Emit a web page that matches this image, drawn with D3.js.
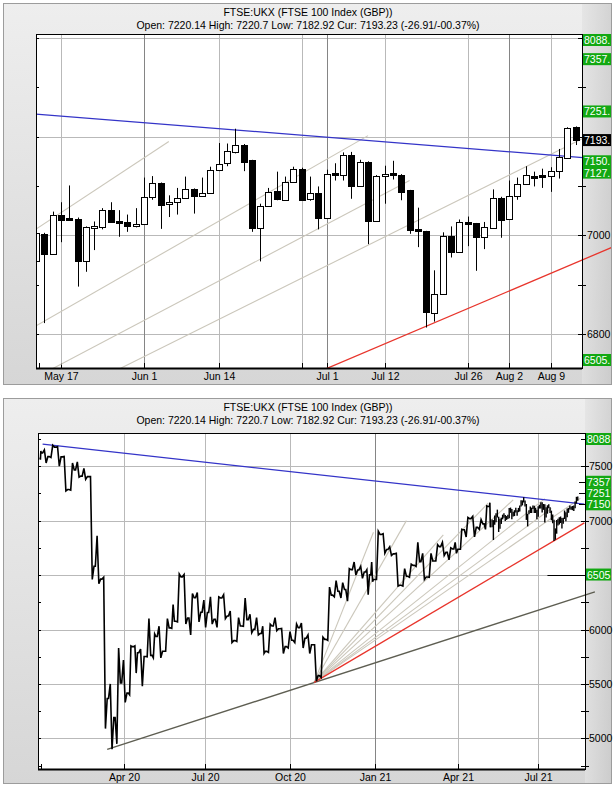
<!DOCTYPE html>
<html><head><meta charset="utf-8">
<script src="https://cdn.jsdelivr.net/npm/d3@7"></script>
<style>
body{margin:0;background:#fff;}
svg{display:block;}
text{font-family:"Liberation Sans",Arial,sans-serif;font-size:10.5px;fill:#000;}
</style>
</head><body>
<svg id="chart" width="616" height="787"></svg>
<script>
// ---------------- DATA ----------------
const titleText = "FTSE:UKX (FTSE 100 Index (GBP))";
const subtitleText = "Open: 7220.14 High: 7220.7 Low: 7182.92 Cur: 7193.23 (-26.91/-00.37%)";

const calendarStart = "2020-01-02";
const calendarEnd = "2021-09-10";
const ukHolidays = ["2020-01-01","2020-04-10","2020-04-13","2020-05-08","2020-05-25","2020-08-31",
  "2020-12-25","2020-12-28","2021-01-01","2021-04-02","2021-04-05","2021-05-03","2021-05-31","2021-08-30"];

// Daily candles (top chart and end of bottom chart), from 2021-05-12
const candleStart = "2021-05-12";
const candleOpen  = [6948,7003,6963,7042,7036,7034,6948,7016,7017,7051,7029,7026,7017,7022,7077,7106,7062,7067,7075,7094,7079,7086,7133,7145,7170,7184,7152,7016,7060,7089,7072,7109,7135,7072,7086,7036,7126,7123,7163,7100,7149,7029,7122,7126,7123,7091,7012,7008,6843,6881,6998,6966,7027,7024,6995,7016,7076,7032,7079,7104,7121,7122,7120,7130,7158,7220.14];
const candleHigh  = [7010,7005,7048,7067,7101,7036,7018,7028,7055,7067,7051,7042,7055,7117,7120,7107,7081,7096,7119,7095,7117,7139,7187,7186,7216,7185,7153,7064,7096,7129,7119,7139,7137,7119,7099,7133,7146,7168,7169,7153,7150,7122,7141,7151,7124,7092,7056,7009,6929,7006,7018,7032,7038,7025,7027,7093,7078,7111,7117,7140,7129,7135,7138,7175,7219,7220.7];
const candleLow   = [6940,6822,6962,6986,7029,6896,6926,6970,7012,7026,6997,7007,7016,7021,7072,7013,7037,7042,7074,7044,7078,7085,7130,7140,7166,7130,7007,6947,7058,7071,7070,7108,7071,7070,7012,7035,7111,7111,7074,7099,6982,7028,7064,7113,7071,7003,6976,6813,6825,6880,6955,6965,6978,6928,6972,7015,6995,7031,7072,7103,7099,7096,7088,7115,7156,7182.92];
const candleClose = [7004,6963,7042,7032,7033,6948,7017,7018,7051,7027,7025,7017,7022,7077,7106,7062,7067,7075,7094,7079,7086,7133,7145,7170,7184,7150,7015,7060,7088,7072,7109,7135,7072,7085,7036,7125,7123,7163,7100,7149,7029,7121,7124,7124,7089,7010,7007,6844,6881,6998,6966,7026,7024,6995,7016,7076,7032,7079,7104,7123,7119,7119,7131,7158,7218,7193.23];

// Weekly OHLC for the long chart, weeks starting on these Mondays, until 2021-05-11
const firstWeekMonday = "2019-12-30";
const weekOpen  = [7580,7622,7588,7675,7586,7286,7466,7409,7404,6581,6463,5366,5191,5510,5416,5843,5787,5752,5763,5936,5800,6015,6076,6484,6105,6292,6159,6157,6095,6290,6124,5898,6032,6090,6001,5963,5799,6032,6007,5843,5902,6016,5920,5860,5577,5910,6316,6351,6367,6550,6547,6529,6502,6460,6873,6735,6695,6407,6489,6589,6624,6483,6630,6761,6709,6740,6737,6916,7019,6938,6970,7130];
const weekHigh  = [7640,7650,7692,7680,7590,7530,7540,7480,7405,6860,6480,5500,5830,5720,5850,5850,5820,6100,5960,6030,6100,6230,6511,6505,6330,6340,6270,6300,6300,6320,6170,6110,6290,6140,6110,6030,6050,6110,6010,5980,6050,6060,5950,5860,5930,6390,6450,6430,6560,6620,6580,6550,6620,6903,6880,6760,6700,6560,6600,6800,6700,6700,6780,6800,6750,6800,6920,7030,7040,7010,7135,7165];
const weekLow   = [7560,7530,7580,7500,7273,7280,7400,7380,6460,6420,5090,4900,4950,5330,5400,5600,5480,5750,5740,5740,5800,6010,6070,6050,5950,6070,6020,6050,6020,6100,5880,5890,6030,5970,5950,5780,5790,5990,5780,5830,5880,5830,5780,5525,5560,5900,6300,6290,6260,6500,6470,6320,6440,6460,6700,6680,6400,6400,6480,6580,6460,6480,6630,6680,6640,6700,6737,6850,6850,6920,6920,6940];
const weekClose = [7622,7588,7675,7586,7286,7466,7409,7404,6581,6463,5366,5191,5510,5416,5843,5787,5752,5763,5936,5800,6015,6076,6484,6105,6292,6159,6157,6095,6290,6124,5898,6032,6090,6001,5963,5799,6032,6007,5843,5902,6016,5920,5860,5577,5910,6316,6351,6367,6550,6547,6529,6502,6460,6873,6735,6695,6407,6489,6589,6624,6483,6630,6761,6709,6740,6737,6916,7019,6938,6970,7130,6948];

// Trend lines: [date, price] end points
const blueLine = [["2020-01-06",7702],["2021-08-19",7152]];
const redLine  = [["2020-10-27",5515],["2021-08-19",6980]];
const darkLine = [["2020-03-13",4900],["2021-09-01",6346]];
const fanOrigin = ["2020-10-27",5515];
const fanEnds = [["2020-12-31",6893],["2021-02-05",7000],["2021-03-17",6870],["2021-05-07",7160],
                 ["2021-06-04",7190],["2021-07-08",7202],["2021-07-15",7111],["2021-08-16",7206]];

// Level labels
const topLevels = [{v:8088,t:"8088.",c:"green"},{v:7357,t:"7357.",c:"green"},{v:7251,t:"7251.",c:"green"},
  {v:7193,t:"7193.",c:"black"},{v:7150,t:"7150.",c:"green"},{v:7127,t:"7127.",c:"green"},{v:6505,t:"6505.",c:"green"}];
const botLevels = [{v:8088,t:"8088",c:"green"},{v:7357,t:"7357",c:"green"},{v:7251,t:"7251",c:"green"},
  {v:7150,t:"7150",c:"green"},{v:6505,t:"6505",c:"green"}];
const botMarkerLevel = {v:6505, from:"2021-07-12", to:"2021-08-13"};

// Axes
const topDateTicks = ["2021-05-17","2021-06-01","2021-06-14","2021-06-28","2021-07-01","2021-07-12","2021-07-26","2021-08-02","2021-08-09"];
const topDateLabels = ["May 17","Jun 1","Jun 14","","Jul 1","Jul 12","Jul 26","Aug 2","Aug 9"];
const topGridValues = [6800,7000,7200,7400];
const topAxisLabels = [6800,7000];
const botDateTicks = ["2020-04-01","2020-07-01","2020-10-01","2021-01-04","2021-04-01","2021-07-01"];
const botDateLabels = ["Apr 20","Jul 20","Oct 20","Jan 21","Apr 21","Jul 21"];
const botGridValues = [5000,5500,6000,6500,7000,7500];
const botAxisLabels = [5000,5500,6000,7000,7500];

// ---------------- CALENDAR ----------------
const parse = d3.utcParse("%Y-%m-%d");
const fmt = d3.utcFormat("%Y-%m-%d");
const holidaySet = new Set(ukHolidays);
const days = [];
for (let d = parse(calendarStart); d <= parse(calendarEnd); d = d3.utcDay.offset(d, 1)) {
  const wd = d.getUTCDay();
  if (wd === 0 || wd === 6 || holidaySet.has(fmt(d))) continue;
  days.push(d);
}
const dayIndex = new Map(days.map((d, i) => [fmt(d), i]));
const idxOf = s => dayIndex.get(s);
const c0 = idxOf(candleStart);
const candles = candleOpen.map((o, i) => ({i: c0 + i, o, h: candleHigh[i], l: candleLow[i], c: candleClose[i]}));

// ---------------- DRAW ----------------
const svg = d3.select("#chart");
const defs = svg.append("defs");
const grad = defs.append("linearGradient").attr("id", "pg").attr("x1", 0).attr("y1", 0).attr("x2", 0).attr("y2", 1);
grad.append("stop").attr("offset", "0%").attr("stop-color", "#eeeeee");
grad.append("stop").attr("offset", "100%").attr("stop-color", "#d6d6d6");
const gradR = defs.append("linearGradient").attr("id", "pr").attr("x1", 0).attr("y1", 0).attr("x2", 1).attr("y2", 0);
gradR.append("stop").attr("offset", "0%").attr("stop-color", "#e2e2e2");
gradR.append("stop").attr("offset", "100%").attr("stop-color", "#c8c8c8");

const GREEN = "#12a812";
const GRID = "#b9b9b9";
const GRID_DARK = "#858585";
const FAN = "#cbc7bb";

function isPeriodStart(i, unit) {
  if (i <= 0) return false;
  const a = days[i], b = days[i - 1];
  return unit === "month" ? a.getUTCMonth() !== b.getUTCMonth() : a.getUTCFullYear() !== b.getUTCFullYear();
}

function drawPanel(cfg) {
  const {P, py0, py1, x, y, id} = cfg;
  const g = svg.append("g");
  g.append("rect").attr("x", 3.5).attr("y", py0 + 0.5).attr("width", 608).attr("height", py1 - py0)
    .attr("fill", "url(#pg)").attr("stroke", "#9c9c9c");
  g.append("rect").attr("x", P.x1).attr("y", py0 + 1).attr("width", 611 - P.x1).attr("height", py1 - py0 - 1)
    .attr("fill", "url(#pr)").attr("opacity", 0.7);
  g.append("text").attr("x", 308).attr("y", py0 + 13).attr("text-anchor", "middle").text(titleText);
  g.append("text").attr("x", 308).attr("y", py0 + 26).attr("text-anchor", "middle").text(subtitleText);
  g.append("rect").attr("x", P.x0).attr("y", P.y0).attr("width", P.x1 - P.x0).attr("height", P.y1 - P.y0).attr("fill", "#fff");

  defs.append("clipPath").attr("id", id + "plot").append("rect")
    .attr("x", P.x0).attr("y", P.y0).attr("width", P.x1 - P.x0).attr("height", P.y1 - P.y0);
  defs.append("clipPath").attr("id", id + "lines").append("rect")
    .attr("x", P.x0).attr("y", P.y0).attr("width", 611 - P.x0).attr("height", P.y1 - P.y0);

  const grid = g.append("g");
  cfg.gridValues.forEach(v => {
    const yy = Math.round(y(v)) + 0.5;
    if (yy <= P.y0 + 1 || yy >= P.y1 - 1) return;
    grid.append("line").attr("x1", P.x0).attr("x2", P.x1).attr("y1", yy).attr("y2", yy).attr("stroke", GRID);
  });
  cfg.dateTicks.forEach((s, k) => {
    const i = idxOf(s);
    const xx = Math.round(x(i)) + 0.5;
    const dark = isPeriodStart(i, cfg.darkUnit);
    grid.append("line").attr("x1", xx).attr("x2", xx).attr("y1", P.y0).attr("y2", P.y1)
      .attr("stroke", dark ? GRID_DARK : GRID);
    grid.append("line").attr("x1", xx).attr("x2", xx).attr("y1", P.y1 - 5).attr("y2", P.y1).attr("stroke", "#000");
    if (cfg.dateLabels[k]) g.append("text").attr("x", xx).attr("y", P.y1 + 12).attr("text-anchor", "middle").text(cfg.dateLabels[k]);
  });
  g.append("line").attr("x1", P.x0 + 3.5).attr("x2", P.x0 + 3.5).attr("y1", P.y1 - 5).attr("y2", P.y1).attr("stroke", "#000");

  for (let v = Math.ceil(y.domain()[0] / cfg.tickStep) * cfg.tickStep; v <= y.domain()[1]; v += cfg.tickStep) {
    const yy = Math.round(y(v)) + 0.5;
    g.append("line").attr("x1", P.x1 - 4).attr("x2", P.x1 + 4).attr("y1", yy).attr("y2", yy).attr("stroke", "#000");
    g.append("line").attr("x1", P.x0).attr("x2", P.x0 + 3).attr("y1", yy).attr("y2", yy).attr("stroke", "#000");
  }

  const lg = g.append("g").attr("clip-path", `url(#${id}lines)`);
  const seg = (a, b, color, w) => lg.append("line")
    .attr("x1", x(idxOf(a[0]))).attr("y1", y(a[1])).attr("x2", x(idxOf(b[0]))).attr("y2", y(b[1]))
    .attr("stroke", color).attr("stroke-width", w);
  fanEnds.forEach(e => seg(fanOrigin, e, FAN, 1.1));
  seg(darkLine[0], darkLine[1], "#5e5e52", 1.4);
  seg(blueLine[0], blueLine[1], "#3434c8", 1.3);
  seg(redLine[0], redLine[1], "#e8352c", 1.3);

  return {g, lg};
}

// ---------- TOP CHART ----------
(function () {
  const P = {x0: 36, x1: 582, y0: 34, y1: 368};
  const x = d3.scaleLinear().domain([c0, idxOf("2021-08-12") + 0.77]).range([P.x0, P.x1]);
  const y = d3.scaleLinear().domain([6731, 7408]).range([P.y1, P.y0]);
  const {g} = drawPanel({P, py0: 3, py1: 384, x, y, id: "t", gridValues: topGridValues,
    dateTicks: topDateTicks, dateLabels: topDateLabels, darkUnit: "month", tickStep: 100});

  const cg = g.append("g").attr("clip-path", "url(#tplot)");
  candles.forEach(d => {
    const cx = Math.round(x(d.i)) + 0.5;
    const up = d.c > d.o;
    cg.append("line").attr("x1", cx).attr("x2", cx).attr("y1", y(d.h)).attr("y2", y(d.l)).attr("stroke", "#000");
    const top = y(Math.max(d.o, d.c)), bot = y(Math.min(d.o, d.c));
    const h = Math.max(2, bot - top);
    cg.append("rect").attr("x", cx - 3).attr("y", Math.round(top) + 0.5).attr("width", 6).attr("height", Math.round(h))
      .attr("fill", up ? "#fff" : "#000").attr("stroke", "#000");
  });

  g.append("rect").attr("x", P.x0 + 0.5).attr("y", P.y0 + 0.5).attr("width", P.x1 - P.x0).attr("height", P.y1 - P.y0)
    .attr("fill", "none").attr("stroke", "#000");
  g.append("line").attr("x1", P.x0).attr("x2", P.x1).attr("y1", P.y1 + 0.5).attr("y2", P.y1 + 0.5).attr("stroke", "#000").attr("stroke-width", 2);

  topAxisLabels.forEach(v => g.append("text").attr("x", P.x1 + 5).attr("y", y(v) + 4).text(v));
  topLevels.forEach(L => {
    const cy = Math.max(P.y0 + 6, Math.min(P.y1 - 8, y(L.v)));
    g.append("rect").attr("x", P.x1 + 1).attr("y", cy - 6).attr("width", 611 - P.x1 - 1).attr("height", 12)
      .attr("fill", L.c === "green" ? GREEN : "#000");
    g.append("text").attr("x", P.x1 + 2).attr("y", cy + 4).style("fill", "#fff").text(L.t);
  });
})();

// ---------- BOTTOM CHART ----------
(function () {
  const P = {x0: 38, x1: 585, y0: 433, y1: 769};
  const x = d3.scaleLinear().domain([-1.5, 413.5]).range([P.x0, P.x1]);
  const y = d3.scaleLinear().domain([4719, 7805]).range([P.y1, P.y0]);
  const {g} = drawPanel({P, py0: 398, py1: 783, x, y, id: "b", gridValues: botGridValues,
    dateTicks: botDateTicks, dateLabels: botDateLabels, darkUnit: "year", tickStep: 250});

  const pg = g.append("g").attr("clip-path", "url(#bplot)");
  const m0 = parse(firstWeekMonday);
  const pts = [];
  weekOpen.forEach((o, k) => {
    const mon = d3.utcDay.offset(m0, 7 * k), nxt = d3.utcDay.offset(mon, 7);
    const ids = days.map((d, i) => [d, i]).filter(([d, i]) => d >= mon && d < nxt && i < c0).map(p => p[1]);
    if (!ids.length) return;
    const a = ids[0], b = ids[ids.length - 1], c = weekClose[k];
    const ext = c >= o ? [weekLow[k], weekHigh[k]] : [weekHigh[k], weekLow[k]];
    pts.push([a, o], [a + (b - a) / 3, ext[0]], [a + 2 * (b - a) / 3, ext[1]], [b, c]);
  });
  pg.append("path").attr("d", d3.line().x(p => x(p[0])).y(p => y(p[1]))(pts))
    .attr("fill", "none").attr("stroke", "#000").attr("stroke-width", 1.6).attr("stroke-linejoin", "miter");
  candles.forEach(d => {
    const cx = x(d.i);
    pg.append("line").attr("x1", cx).attr("x2", cx).attr("y1", y(d.h)).attr("y2", y(d.l)).attr("stroke", "#000").attr("stroke-width", 1.4);
  });
  g.append("line").attr("x1", x(idxOf(botMarkerLevel.from))).attr("x2", x(idxOf(botMarkerLevel.to)))
    .attr("y1", Math.round(y(botMarkerLevel.v)) + 0.5).attr("y2", Math.round(y(botMarkerLevel.v)) + 0.5).attr("stroke", "#000").attr("stroke-width", 1.2);

  g.append("rect").attr("x", P.x0 + 0.5).attr("y", P.y0 + 0.5).attr("width", P.x1 - P.x0).attr("height", P.y1 - P.y0)
    .attr("fill", "none").attr("stroke", "#000");
  g.append("line").attr("x1", P.x0).attr("x2", P.x1).attr("y1", P.y1 + 0.5).attr("y2", P.y1 + 0.5).attr("stroke", "#000").attr("stroke-width", 2);

  botAxisLabels.forEach(v => g.append("text").attr("x", P.x1 + 4).attr("y", y(v) + 4).text(v));
  botLevels.forEach(L => {
    const yy = Math.round(y(L.v)) + 0.5;
    if (L.v < y.domain()[1]) g.append("line").attr("x1", P.x1 - 6).attr("x2", P.x1).attr("y1", yy).attr("y2", yy).attr("stroke", "#000");
    const cy = Math.max(P.y0 + 6, Math.min(P.y1 - 8, y(L.v)));
    g.append("rect").attr("x", P.x1 + 1).attr("y", cy - 6).attr("width", 611 - P.x1 - 1).attr("height", 12).attr("fill", GREEN);
    g.append("text").attr("x", P.x1 + 2).attr("y", cy + 4).style("fill", "#fff").text(L.t);
  });
})();
</script>
</body></html>
